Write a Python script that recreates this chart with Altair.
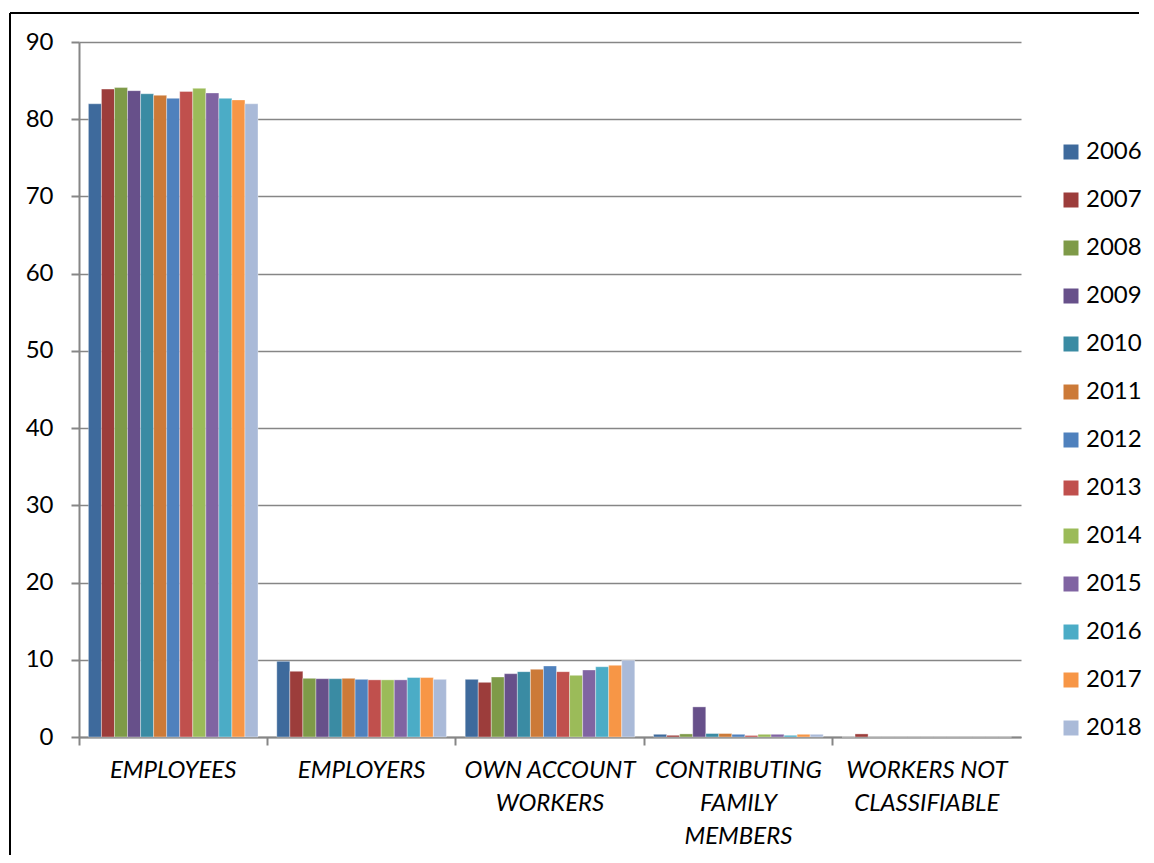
import altair as alt
import pandas as pd

categories = ["EMPLOYEES", "EMPLOYERS", "OWN ACCOUNT|WORKERS",
              "CONTRIBUTING|FAMILY|MEMBERS", "WORKERS NOT|CLASSIFIABLE"]
years = [str(y) for y in range(2006, 2019)]

employees = [82.0, 83.9, 84.1, 83.7, 83.3, 83.1, 82.7, 83.6, 84.0, 83.4, 82.7, 82.5, 82.0]
employers = [9.8, 8.5, 7.6, 7.55, 7.55, 7.6, 7.47, 7.4, 7.4, 7.4, 7.7, 7.7, 7.47]
own_account = [7.47, 7.08, 7.77, 8.2, 8.46, 8.77, 9.2, 8.46, 7.99, 8.68, 9.1, 9.28, 9.93]
family = [0.35, 0.22, 0.4, 3.9, 0.45, 0.45, 0.35, 0.2, 0.35, 0.35, 0.22, 0.35, 0.35]
not_classifiable = [0.0, 0.4, 0.0, 0.0, 0.0, 0.0, 0.0, 0.0, 0.0, 0.0, 0.0, 0.0, 0.0]

colors = ["#3E6A9C", "#9C3D3B", "#7E9A48", "#67508A", "#3A8BA3", "#CC7A38",
          "#4F81BD", "#C0504D", "#9BBB59", "#8064A2", "#4BACC6", "#F79646", "#AABAD8"]

series = [employees, employers, own_account, family, not_classifiable]
rows = []
for cat, vals in zip(categories, series):
    for yr, v in zip(years, vals):
        rows.append({"category": cat, "year": yr, "value": v})
df = pd.DataFrame(rows)

FONT = "Lato"
GRAY = "#868686"

bars = alt.Chart(df).mark_bar(stroke="#ffffff", strokeWidth=0.6, strokeOpacity=0.6).encode(
    x=alt.X("category:N", sort=categories, title=None,
            scale=alt.Scale(paddingInner=0, paddingOuter=0),
            axis=alt.Axis(labelExpr="split(datum.label, '|')", labelAngle=0,
                          labelFontStyle="italic", labelFontSize=24, labelFont=FONT,
                          labelColor="#000000", labelPadding=13, labelLineHeight=33,
                          labelBaseline="top",
                          bandPosition=0, domainColor=GRAY, domainWidth=2,
                          tickColor=GRAY, tickWidth=2, tickSize=8, grid=False)),
    xOffset=alt.XOffset("year:N", sort=years,
                        scale=alt.Scale(paddingInner=0, paddingOuter=0.72)),
    y=alt.Y("value:Q", title=None,
            scale=alt.Scale(domain=[0, 90], nice=False),
            axis=alt.Axis(values=list(range(0, 91, 10)), labelFontSize=24, labelFont=FONT,
                          labelColor="#000000", labelPadding=18,
                          domainColor=GRAY, domainWidth=2,
                          tickColor=GRAY, tickWidth=2, tickSize=8,
                          grid=True, gridColor=GRAY, gridWidth=1.5)),
    color=alt.Color("year:N", sort=years,
                    scale=alt.Scale(domain=years, range=colors),
                    legend=alt.Legend(title=None, orient="none", legendX=980, legendY=98,
                                      symbolType="square", symbolSize=225,
                                      symbolStrokeWidth=0, labelFontSize=24,
                                      labelFont=FONT, labelColor="#000000",
                                      labelOffset=3, rowPadding=24, padding=0)),
)

frame = alt.Data(values=[{"a": 1}])
top_line = alt.Chart(frame).mark_rule(color="#000000", strokeWidth=2, clip=False).encode(
    x=alt.value(-69), x2=alt.value(1060), y=alt.value(-29)
)
left_line = alt.Chart(frame).mark_rule(color="#000000", strokeWidth=2, clip=False).encode(
    x=alt.value(-69), y=alt.value(-29), y2=alt.value(813)
)

chart = alt.layer(bars, top_line, left_line).properties(
    width=942, height=695,
    autosize=alt.AutoSizeParams(type="none"),
    padding={"left": 71, "top": 34, "right": 125, "bottom": 118},
).configure_view(stroke=None)

chart.save("out.html", embed_options={"renderer": "svg", "actions": False})
